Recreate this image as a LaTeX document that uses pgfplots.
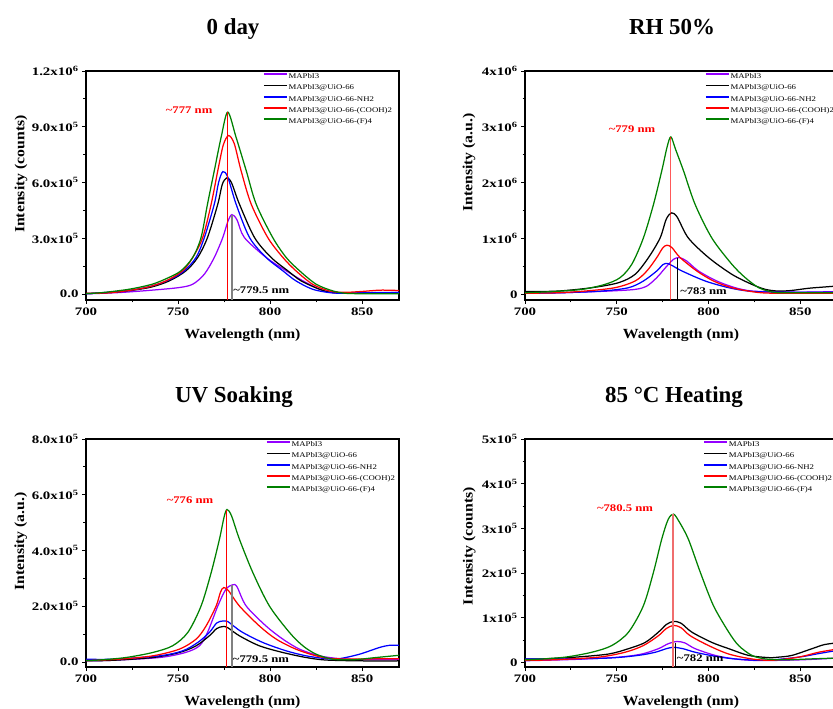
\documentclass[border=0pt]{standalone}
\usepackage{fontspec}
\setmainfont{Liberation Serif}
\newfontfamily\tickff[FakeStretch=1.3]{Liberation Serif}
\newfontfamily\labff[FakeStretch=1.13]{Liberation Serif}
\newfontfamily\legff[FakeStretch=1.22]{Liberation Serif}
\newfontfamily\annff[FakeStretch=1.25]{Liberation Serif}
\usepackage{pgfplots}
\pgfplotsset{compat=1.18}

\definecolor{cpurple}{RGB}{148,0,255}
\definecolor{cgreen}{RGB}{0,128,0}
\definecolor{cpink}{RGB}{240,110,110}
\definecolor{cgray}{RGB}{128,128,128}

\newcommand{\tfont}{\fontsize{23}{24}\selectfont\bfseries}
\newcommand{\afont}{\annff\fontsize{10.2}{11}\selectfont\bfseries}

\pgfplotsset{
  pl/.style={
    scale only axis, width=313bp, height=229bp,
    xmin=700, xmax=870, xtick={700,750,800,850},
    minor x tick num=1, minor y tick num=1,
    tick align=outside, xtick pos=bottom, ytick pos=left,
    major tick length=4bp, minor tick length=2.5bp,
    axis line style={line width=1.2bp},
    tick style={black, line width=0.9bp},
    tick label style={font=\tickff\fontsize{11.5}{12}\selectfont\bfseries},
    /pgf/number format/assume math mode=true,
    every axis y label/.style={rotate=90, anchor=center,
      font=\labff\fontsize{14}{15}\selectfont\bfseries},
    every axis x label/.style={at={(axis description cs:0.5,0)}, yshift=-35bp,
      anchor=center, font=\labff\fontsize{14}{15}\selectfont\bfseries},
    xlabel={Wavelength (nm)},
    legend cell align=left,
    legend style={anchor=north west, draw=none, fill=none, inner sep=0pt,
      outer sep=0pt, font=\legff\fontsize{7.2}{8}\selectfont, row sep=4.2bp,
      nodes={inner sep=0pt, text height=5.5bp, text depth=1.5bp},
      /tikz/every odd column/.append style={column sep=0.8bp}},
    legend image code/.code={%
      \draw[#1, line width=1.8bp] (0bp,2.5bp) -- (23bp,2.5bp);},
    every axis plot/.append style={line width=1.25bp, smooth, tension=0.5},
  }
}

\begin{document}
\begin{tikzpicture}

% ---------------- 0 day ----------------
\begin{axis}[pl, at={(86bp,409bp)}, anchor=south west,
  ymin=-0.31, ymax=12, ytick={0,3,6,9,12},
  yticklabels={0.0,3.0x10\textsuperscript{5},6.0x10\textsuperscript{5},9.0x10\textsuperscript{5},1.2x10\textsuperscript{6}},
  ylabel={Intensity (counts)}, ylabel style={at={(axis description cs:-0.2077,0.55)}},
  legend style={at={(axis description cs:0.5655,0.99)}}]
\addplot[cpurple] coordinates {(700,0.02)(718,0.09)(736,0.22)(750.7,0.36)(758,0.54)(764.3,1.08)(769.7,1.98)(774.3,3.05)(777,3.9)(779.2,4.28)(782,4.0)(786,3.05)(797.8,1.98)(808.7,1.26)(817.8,0.72)(826.8,0.27)(834,0.09)(850,0.05)(870,0.1)};
\addlegendentry{MAPbI3}
\addplot[black] coordinates {(700,0.03)(718,0.13)(734.4,0.36)(745.3,0.72)(754.3,1.26)(760.7,1.98)(766,3.05)(771.6,4.85)(774,5.9)(776.4,6.25)(779,6.0)(783.3,4.85)(791.5,3.05)(800.5,1.98)(809.6,1.26)(816.8,0.72)(826.8,0.27)(834,0.09)(850,0.05)(870,0.08)};
\addlegendentry{MAPbI3@UiO-66}
\addplot[blue] coordinates {(700,0.03)(721.7,0.18)(736,0.45)(746,0.81)(753.4,1.26)(759.8,1.98)(764.3,3.05)(769.7,4.85)(772,6.0)(774.3,6.59)(777,6.3)(781.5,4.85)(788.8,3.05)(797.8,1.98)(806.9,1.26)(814,0.72)(823,0.27)(832,0.09)(840,0.05)(850,0.08)(870,0.1)};
\addlegendentry{MAPbI3@UiO-66-NH2}
\addplot[red] coordinates {(700,0.05)(714.5,0.09)(732.6,0.36)(743.5,0.72)(752.5,1.26)(758,1.98)(763.4,3.05)(768,4.85)(771.6,6.65)(774.5,8.0)(777.4,8.53)(780.5,8.1)(784.2,6.65)(789.7,4.85)(798.7,3.05)(806.9,1.98)(814,1.26)(823,0.54)(832,0.18)(840,0.1)(850,0.15)(860,0.22)(870,0.2)};
\addlegendentry{MAPbI3@UiO-66-(COOH)2}
\addplot[cgreen] coordinates {(700,0.03)(709,0.09)(723.5,0.27)(736,0.54)(745,0.9)(751.6,1.26)(758,1.98)(762.5,3.05)(766,4.85)(769.7,6.65)(773.4,8.44)(777,9.79)(781.5,8.44)(787,6.65)(792.4,4.85)(801.4,3.05)(808.7,1.98)(816,1.26)(825,0.54)(834,0.18)(841,0.05)(850,0.03)(870,0.03)};
\addlegendentry{MAPbI3@UiO-66-(F)4}
\addplot[red, line width=0.8bp, forget plot] coordinates {(777,-0.31)(777,9.79)};
\addplot[cgray, line width=2bp, forget plot] coordinates {(779.5,-0.31)(779.5,4.28)};
\node[text=red, font=\afont] at (axis cs:756,9.88) {\textasciitilde777 nm};
\node[anchor=west, font=\afont, inner sep=0pt] at (axis cs:779.9,0.23) {\textasciitilde779.5 nm};
\end{axis}

% ---------------- RH 50% ----------------
\begin{axis}[pl, at={(525bp,409bp)}, anchor=south west, width=312bp,
  ymin=-0.1, ymax=4, ytick={0,1,2,3,4},
  yticklabels={0,1x10\textsuperscript{6},2x10\textsuperscript{6},3x10\textsuperscript{6},4x10\textsuperscript{6}},
  ylabel={Intensity (a.u.)}, ylabel style={at={(axis description cs:-0.179,0.6)}},
  legend style={at={(axis description cs:0.577,0.99)}}]
\addplot[cpurple] coordinates {(700,0.02)(720,0.03)(745.5,0.06)(760,0.09)(766.4,0.15)(771.8,0.30)(775,0.42)(778.2,0.54)(781,0.63)(784,0.66)(788,0.6)(794.5,0.42)(804.5,0.24)(814.5,0.12)(823.6,0.06)(836,0.05)(850,0.04)(870,0.05)};
\addlegendentry{MAPbI3}
\addplot[black] coordinates {(700,0.05)(718,0.06)(736.4,0.12)(751,0.21)(760,0.36)(767.3,0.66)(773.6,1.01)(777,1.35)(780,1.46)(783,1.38)(789,1.01)(800,0.66)(812.7,0.36)(823.6,0.18)(831,0.09)(838,0.06)(845,0.07)(854.5,0.11)(862,0.13)(870,0.15)};
\addlegendentry{MAPbI3@UiO-66}
\addplot[blue] coordinates {(700,0.02)(720,0.03)(741.8,0.06)(756.4,0.12)(764.5,0.24)(771.8,0.42)(775,0.53)(777.3,0.555)(780,0.52)(785.5,0.42)(798.2,0.24)(811,0.12)(821.8,0.06)(836,0.04)(870,0.04)};
\addlegendentry{MAPbI3@UiO-66-NH2}
\addplot[red] coordinates {(700,0.02)(718,0.03)(732.7,0.06)(749,0.12)(760,0.24)(766.4,0.42)(771.8,0.66)(775,0.83)(777.3,0.88)(780,0.84)(784.5,0.66)(793.6,0.42)(802.7,0.24)(812.7,0.12)(823.6,0.05)(832,0.024)(850,0.02)(870,0.02)};
\addlegendentry{MAPbI3@UiO-66-(COOH)2}
\addplot[cgreen] coordinates {(700,0.03)(714.5,0.05)(731,0.09)(743.6,0.18)(751.8,0.30)(758.2,0.54)(764.5,1.01)(770,1.61)(774.5,2.21)(777.5,2.65)(779.5,2.82)(782,2.6)(786.4,2.21)(792.7,1.61)(801.8,1.01)(812.7,0.54)(820,0.30)(827.3,0.12)(832.7,0.06)(838,0.03)(850,0.03)(870,0.03)};
\addlegendentry{MAPbI3@UiO-66-(F)4}
\addplot[red, line width=0.8bp, forget plot] coordinates {(779,-0.1)(779,2.82)};
\addplot[black, line width=0.8bp, forget plot] coordinates {(783,-0.1)(783,0.65)};
\node[text=red, font=\afont] at (axis cs:758.3,2.96) {\textasciitilde779 nm};
\node[anchor=west, font=\afont, inner sep=0pt] at (axis cs:784.5,0.06) {\textasciitilde783 nm};
\end{axis}

% ---------------- UV Soaking ----------------
\begin{axis}[pl, at={(86bp,42bp)}, anchor=south west, height=228bp,
  ymin=-0.18, ymax=8, ytick={0,2,4,6,8},
  yticklabels={0.0,2.0x10\textsuperscript{5},4.0x10\textsuperscript{5},6.0x10\textsuperscript{5},8.0x10\textsuperscript{5}},
  ylabel={Intensity (a.u.)}, ylabel style={at={(axis description cs:-0.2086,0.55)}},
  legend style={at={(axis description cs:0.575,0.99)}}]
\addplot[cpurple] coordinates {(700,0.04)(714,0.06)(739.9,0.16)(754,0.34)(761.6,0.58)(766,1.06)(771.6,2.01)(776,2.61)(779.7,2.77)(782,2.7)(787,2.01)(797.8,1.29)(806.9,0.82)(816,0.46)(826.8,0.22)(837.7,0.12)(850,0.08)(870,0.08)};
\addlegendentry{MAPbI3}
\addplot[black] coordinates {(700,0.04)(714.5,0.06)(736.2,0.16)(750.7,0.34)(759.8,0.58)(767,0.94)(771,1.2)(774.3,1.27)(777,1.23)(783.3,0.94)(794.2,0.58)(806.9,0.34)(819.6,0.16)(830.4,0.07)(850,0.04)(870,0.04)};
\addlegendentry{MAPbI3@UiO-66}
\addplot[blue] coordinates {(700,0.10)(714.5,0.10)(739.9,0.22)(752.5,0.40)(760.7,0.70)(767,1.06)(771,1.4)(774.3,1.47)(777,1.45)(780,1.3)(785.1,1.06)(796,0.70)(808.7,0.40)(819.6,0.22)(830.4,0.12)(837.7,0.12)(848.6,0.28)(859.4,0.52)(865,0.6)(870,0.6)};
\addlegendentry{MAPbI3@UiO-66-NH2}
\addplot[red] coordinates {(700,0.05)(718,0.10)(736.2,0.22)(750.7,0.46)(759.8,0.82)(765.2,1.29)(770.7,2.01)(773,2.5)(774.8,2.67)(777.5,2.55)(783.3,2.01)(794.2,1.29)(803.3,0.82)(814,0.46)(825,0.22)(834,0.12)(850,0.11)(870,0.12)};
\addlegendentry{MAPbI3@UiO-66-(COOH)2}
\addplot[cgreen] coordinates {(700,0.05)(707,0.07)(721.7,0.16)(736.2,0.34)(747,0.58)(755.3,1.06)(762.5,2.01)(768,3.21)(772.5,4.41)(775,5.2)(776.6,5.47)(779,5.25)(783.3,4.41)(790.6,3.21)(799.6,2.01)(810.5,1.06)(817.8,0.58)(825,0.28)(834,0.10)(845,0.08)(857.6,0.16)(870,0.24)};
\addlegendentry{MAPbI3@UiO-66-(F)4}
\addplot[red, line width=0.8bp, forget plot] coordinates {(776,-0.18)(776,5.47)};
\addplot[cgray, line width=2bp, forget plot] coordinates {(779.5,-0.18)(779.5,2.77)};
\node[text=red, font=\afont] at (axis cs:756.5,5.79) {\textasciitilde776 nm};
\node[anchor=west, font=\afont, inner sep=0pt] at (axis cs:779.7,0.1) {\textasciitilde779.5 nm};
\end{axis}

% ---------------- 85 C Heating ----------------
\begin{axis}[pl, at={(525bp,42bp)}, anchor=south west, width=312bp, height=228bp,
  ymin=-0.1, ymax=5, ytick={0,1,2,3,4,5},
  yticklabels={0,1x10\textsuperscript{5},2x10\textsuperscript{5},3x10\textsuperscript{5},4x10\textsuperscript{5},5x10\textsuperscript{5}},
  ylabel={Intensity (counts)}, ylabel style={at={(axis description cs:-0.1785,0.53)}},
  legend style={at={(axis description cs:0.571,0.99)}}]
\addplot[cpurple] coordinates {(700,0.04)(727.3,0.07)(750.9,0.12)(763.6,0.19)(772.7,0.31)(778,0.42)(782.7,0.47)(787,0.44)(792.7,0.31)(803.6,0.16)(814.5,0.08)(827,0.045)(850,0.06)(870,0.10)};
\addlegendentry{MAPbI3}
\addplot[black] coordinates {(700,0.08)(709,0.08)(727.3,0.12)(745.5,0.19)(756.4,0.31)(765.5,0.45)(772.7,0.68)(777,0.85)(780.9,0.92)(785,0.88)(790.9,0.68)(801.8,0.45)(811,0.31)(821.8,0.16)(832.7,0.11)(838,0.12)(845.5,0.16)(856.4,0.31)(863,0.40)(870,0.44)};
\addlegendentry{MAPbI3@UiO-66}
\addplot[blue] coordinates {(700,0.08)(718,0.08)(745.5,0.10)(761.8,0.16)(771,0.23)(777,0.31)(780.9,0.34)(786,0.31)(792.7,0.23)(803.6,0.14)(814.5,0.08)(830.9,0.05)(849,0.12)(860,0.2)(870,0.27)};
\addlegendentry{MAPbI3@UiO-66-NH2}
\addplot[red] coordinates {(700,0.05)(715,0.06)(740,0.12)(754.5,0.23)(764.5,0.38)(772.7,0.60)(777,0.76)(780.9,0.83)(785,0.78)(790,0.60)(800,0.38)(811,0.19)(823.6,0.08)(834.5,0.05)(849,0.12)(860,0.23)(870,0.30)};
\addlegendentry{MAPbI3@UiO-66-(COOH)2}
\addplot[cgreen] coordinates {(700,0.06)(705.5,0.07)(721.8,0.12)(736.4,0.23)(747.3,0.38)(756.4,0.68)(764.5,1.27)(770,2.02)(774.5,2.76)(778,3.2)(780.9,3.32)(784,3.15)(789,2.76)(795.5,2.02)(802.7,1.27)(811,0.68)(816.4,0.38)(823.6,0.16)(831,0.08)(841.8,0.06)(855,0.08)(870,0.10)};
\addlegendentry{MAPbI3@UiO-66-(F)4}
\addplot[cpink, line width=1.6bp, forget plot] coordinates {(780.5,-0.1)(780.5,3.32)};
\addplot[black, line width=0.8bp, forget plot] coordinates {(782,-0.1)(782,0.44)};
\node[text=red, font=\afont] at (axis cs:754.5,3.46) {\textasciitilde780.5 nm};
\node[anchor=west, font=\afont, inner sep=0pt] at (axis cs:782.7,0.1) {\textasciitilde782 nm};
\end{axis}

% titles
\node[anchor=base, font=\tfont] at (233bp,674.3bp) {0 day};
\node[anchor=base, font=\tfont] at (672bp,674.3bp) {RH 50\%};
\node[anchor=base, font=\tfont] at (234bp,306.3bp) {UV Soaking};
\node[anchor=base, font=\tfont] at (674bp,306.3bp) {85 °C Heating};

\pgfresetboundingbox
\path[use as bounding box] (0bp,0bp) rectangle (833bp,709bp);
\end{tikzpicture}
\end{document}
